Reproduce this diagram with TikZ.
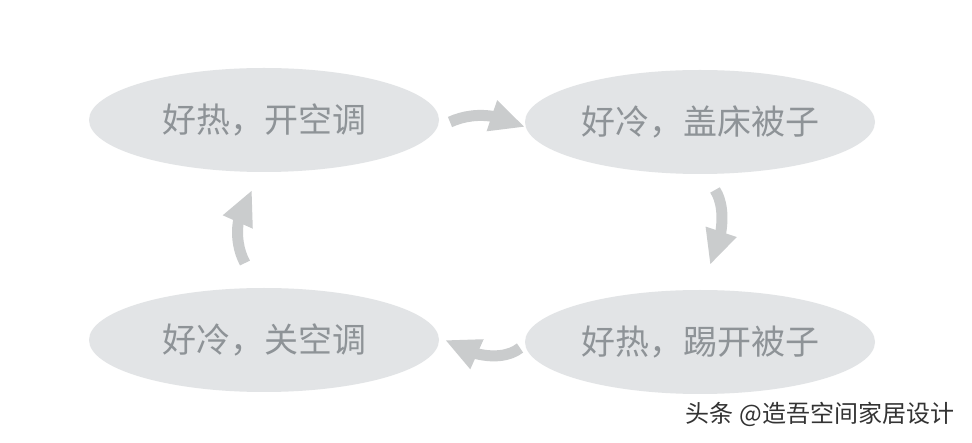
\documentclass[tikz,border=0pt]{standalone}
\usepackage{fontspec}
\setmainfont{Noto Sans CJK SC}
\usetikzlibrary{shapes.geometric,arrows.meta,bending}
\definecolor{bubble}{HTML}{E2E4E6}
\definecolor{words}{HTML}{8E9397}
\definecolor{curl}{HTML}{CACCCD}
\definecolor{mark}{HTML}{333333}

\begin{document}
\begin{tikzpicture}[x=1pt,y=-1pt,
    mood/.style={ellipse, fill=bubble, draw=none, minimum width=350pt, minimum height=104pt, inner sep=0pt, text=words, font=\fontsize{34}{34}\selectfont},
    turn/.style={draw=curl, line width=11pt, -{Triangle[length=35pt,width=30pt]}}]
    \fill [white] (0,0) rectangle (972,443);
    \useasboundingbox (0,0) rectangle (972,443);

    % the four states
    \node [mood, name=hotac] at (264,120) {好热，开空调};
    \node [mood, name=coldquilt] at (700,122) {好冷，盖床被子};
    \node [mood, name=hotkick] at (700,342) {好热，踢开被子};
    \node [mood, name=coldac] at (264,340) {好冷，关空调};

    % top arrow
    \coordinate (t1) at (450,122);
    \coordinate (t2) at (525,127);
    \draw [turn] (t1) .. controls (470,113) and (495,112) .. (t2);

    % right arrow
    \coordinate (r1) at (715,190);
    \coordinate (r2) at (710,265);
    \draw [turn] (r1) .. controls (725,205) and (725,235) .. (r2);

    % bottom arrow
    \coordinate (b1) at (520,348);
    \coordinate (b2) at (445,340);
    \draw [turn] (b1) .. controls (505,360) and (475,359) .. (b2);

    % left arrow
    \coordinate (l1) at (245,263);
    \coordinate (l2) at (252,190);
    \draw [turn] (l1) .. controls (235,245) and (233,215) .. (l2);

    % watermark
    \node [draw=none, text=mark, font=\fontsize{24}{24}\selectfont, name=wm] at (820,414) {头条 @造吾空间家居设计};
\end{tikzpicture}
\end{document}
